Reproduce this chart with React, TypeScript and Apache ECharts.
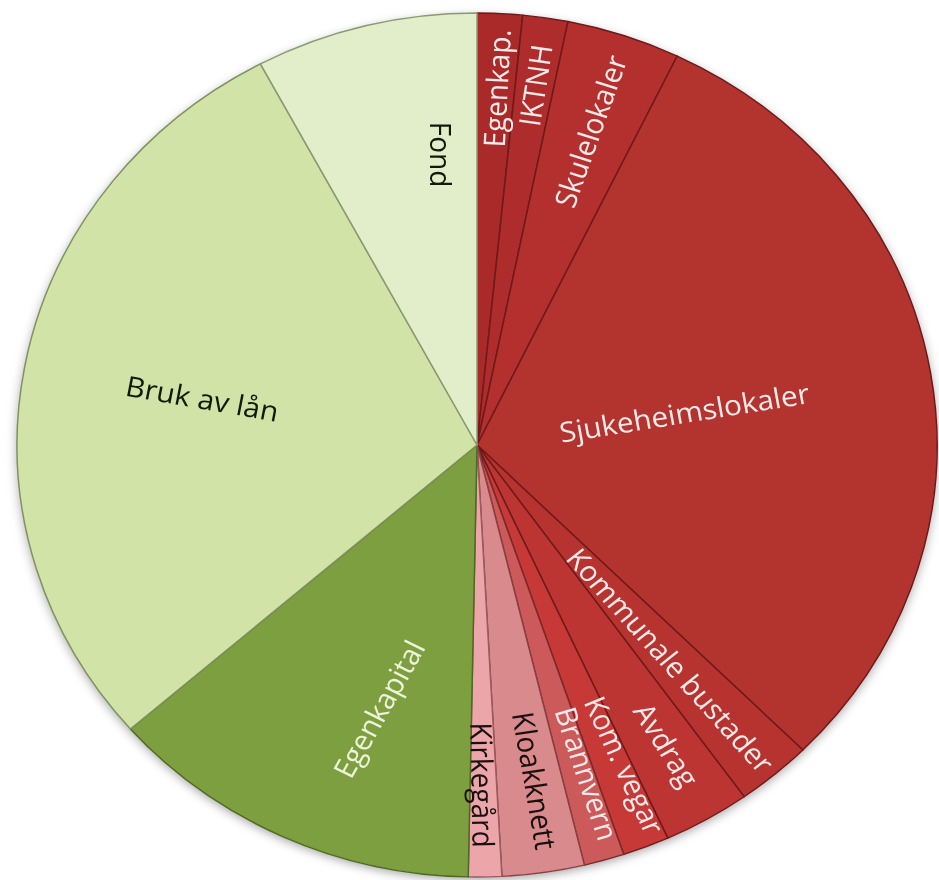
import React, { useEffect, useRef } from "react";
import * as echarts from "echarts";

// Slices, clockwise from 12 o'clock
const categories = [
  "Egenkap.",
  "IKTNH",
  "Skulelokaler",
  "Sjukeheimslokaler",
  "Kommunale bustader",
  "Avdrag",
  "Kom. vegar",
  "Brannvern",
  "Kloakknett",
  "Kirkegård",
  "Egenkapital",
  "Bruk av lån",
  "Fond",
];
// relative shares
const values = [5.7, 5.7, 14.4, 109.1, 9.6, 11.0, 5.9, 5.1, 10.4, 4.2, 47.8, 103.0, 28.1];

// styles
const sliceColors = [
  "#a92a29",
  "#ae2d2c",
  "#b4302e",
  "#b3332f",
  "#b6332f",
  "#bd3533",
  "#c63936",
  "#cc5a5b",
  "#d98a8c",
  "#eca6aa",
  "#7e9f3f",
  "#d1e3a6",
  "#e2edca",
];
const borderColors = [
  "#6e1a1a", "#6e1a1a", "#6e1a1a", "#6e1a1a", "#6e1a1a", "#6e1a1a", "#6e1a1a",
  "#7a2a2a", "#8a4040", "#9a5a5e", "#4e6a22", "#7f9260", "#8a9a70",
];
const labelColors = [
  "#fbeaea", "#fbeaea", "#fbeaea", "#fbeaea", "#fbeaea", "#fbeaea", "#fbeaea",
  "#fbeaea", "#1a0f0f", "#1a0f0f", "#eef4dc", "#111a08", "#111a08",
];
// label placement: distance from centre (share of radius), angular shift (deg), fixed rotation
const labelRadius = [0.82, 0.835, 0.76, 0.45, 0.645, 0.8, 0.8, 0.79, 0.78, 0.78, 0.64, 0.6, 0.67];
const labelShift = [0, 0, 0, 0, 0, -0.8, -2, -1.5, -1, 0, -5.6, 0, 7.5];
const labelRotate: (number | null)[] = [null, null, null, null, null, null, null, null, null, null, 62, null, -90];

const SX = 460 / 432;
const W = 882;
const H = 880;
const CX = 448;
const CY = 445;
const R = 432;

export default function App() {
  const ref = useRef<HTMLDivElement>(null);
  useEffect(() => {
    if (!ref.current) return;
    const chart = echarts.init(ref.current, undefined, { renderer: "svg" });
    const base = {
      type: "pie",
      startAngle: 90,
      clockwise: true,
      center: [CX, CY],
      silent: true,
      avoidLabelOverlap: false,
      emphasis: { disabled: true },
      labelLine: { show: false },
      labelLayout: { hideOverlap: false },
    };
    const labelSeries = categories.map((_, i) => ({
      ...base,
      startAngle: 90 - labelShift[i],
      radius: [0, 2 * labelRadius[i] * R],
      itemStyle: { color: "rgba(0,0,0,0)", borderWidth: 0 },
      label: {
        show: true,
        position: "inside",
        rotate: labelRotate[i] === null ? "radial" : labelRotate[i],
        fontFamily: "'Open Sans', sans-serif",
        fontSize: 28,
        color: labelColors[i],
        overflow: "none",
        formatter: "{b}",
      },
      data: categories.map((name, j) => ({
        name,
        value: values[j],
        label: { show: j === i },
      })),
    }));
    chart.setOption({
      animation: false,
      series: [
        {
          ...base,
          radius: [0, R],
          label: { show: false },
          itemStyle: {
            color: "#ffffff",
            shadowBlur: 10,
            shadowColor: "rgba(0,0,0,0.35)",
            shadowOffsetY: 3,
          },
          data: [{ name: "bg", value: 1 }],
        },
        {
          ...base,
          radius: [0, R],
          label: { show: false },
          data: categories.map((name, i) => ({
            name,
            value: values[i],
            itemStyle: {
              color: sliceColors[i],
              borderColor: borderColors[i],
              borderWidth: 1.4,
            },
          })),
        },
        ...labelSeries,
      ],
    });
    return () => chart.dispose();
  }, []);
  return (
    <div
      style={{
        position: "absolute",
        left: 0,
        top: 0,
        width: 939,
        height: 880,
        overflow: "hidden",
        background: "#ffffff",
      }}
    >
      <div
        ref={ref}
        style={{
          width: W,
          height: H,
          transform: `scaleX(${SX})`,
          transformOrigin: "0 0",
        }}
      />
    </div>
  );
}
